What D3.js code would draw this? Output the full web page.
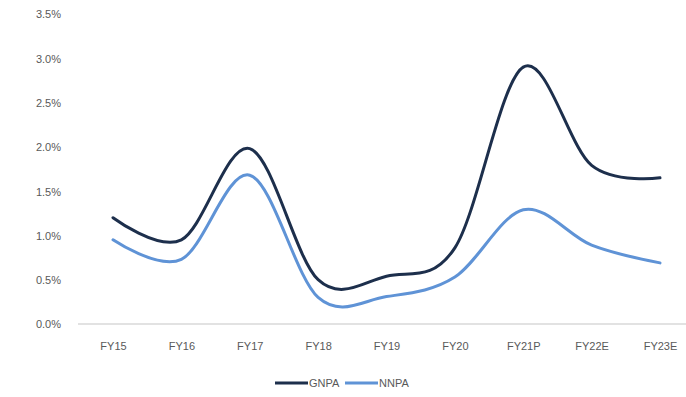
<!DOCTYPE html>
<html>
<head>
<meta charset="utf-8">
<script src="https://cdn.jsdelivr.net/npm/d3@7/dist/d3.min.js"></script>
<style>
  html, body { margin: 0; padding: 0; background: #ffffff; }
  svg { display: block; }
  text { font-family: "Liberation Sans", Arial, sans-serif; fill: #595959; }
</style>
</head>
<body>
<svg id="chart" width="686" height="397"></svg>
<script>
// Asset quality trend: gross and net NPA ratios by fiscal year
const years = ["FY15", "FY16", "FY17", "FY18", "FY19", "FY20", "FY21P", "FY22E", "FY23E"];
const gnpa = [1.20, 0.95, 1.98, 0.50, 0.54, 0.86, 2.90, 1.79, 1.65];
const nnpa = [0.95, 0.73, 1.68, 0.30, 0.31, 0.53, 1.29, 0.89, 0.69];
const yTicks = [0, 0.5, 1.0, 1.5, 2.0, 2.5, 3.0, 3.5];
const seriesNames = ["GNPA", "NNPA"];
const seriesColors = ["#1d2f4c", "#5f93d6"];

const svg = d3.select("#chart");

const x = d3.scalePoint()
  .domain(years)
  .range([113, 660]);

const y = d3.scaleLinear()
  .domain([0, 3.5])
  .range([324, 14]);

// Baseline
svg.append("line")
  .attr("x1", 78).attr("x2", 686)
  .attr("y1", y(0)).attr("y2", y(0))
  .attr("stroke", "#d9d9d9")
  .attr("stroke-width", 1.5);

// Y axis labels
const yAxis = d3.axisLeft(y)
  .tickValues(yTicks)
  .tickFormat(d => d.toFixed(1) + "%")
  .tickSize(0)
  .tickPadding(0);
svg.append("g")
  .attr("transform", "translate(61,0)")
  .call(yAxis)
  .call(g => g.select(".domain").remove())
  .call(g => g.selectAll("text")
    .attr("font-size", 11)
    .attr("font-family", "Liberation Sans, Arial, sans-serif")
    .attr("fill", "#595959")
    .attr("dy", "0.35em"));

// X axis labels
const xAxis = d3.axisBottom(x).tickSize(0).tickPadding(0);
svg.append("g")
  .attr("transform", "translate(0,342)")
  .call(xAxis)
  .call(g => g.select(".domain").remove())
  .call(g => g.selectAll("text")
    .attr("font-size", 11)
    .attr("font-family", "Liberation Sans, Arial, sans-serif")
    .attr("fill", "#595959"));

// Smoothed lines
const line = d3.line()
  .x((d, i) => x(years[i]))
  .y(d => y(d))
  .curve(d3.curveCatmullRom.alpha(0));

[gnpa, nnpa].forEach((vals, k) => {
  svg.append("path")
    .datum(vals)
    .attr("d", line)
    .attr("fill", "none")
    .attr("stroke", seriesColors[k])
    .attr("stroke-width", 3)
    .attr("stroke-linecap", "round");
});

// Legend
const legend = svg.append("g").attr("transform", "translate(275,383)");
seriesNames.forEach((name, k) => {
  const gx = k * 70;
  legend.append("line")
    .attr("x1", gx).attr("x2", gx + 33)
    .attr("y1", 0).attr("y2", 0)
    .attr("stroke", seriesColors[k])
    .attr("stroke-width", 3);
  legend.append("text")
    .attr("x", gx + 34)
    .attr("y", 0)
    .attr("dy", "0.35em")
    .attr("font-size", 11)
    .text(name);
});
</script>
</body>
</html>
